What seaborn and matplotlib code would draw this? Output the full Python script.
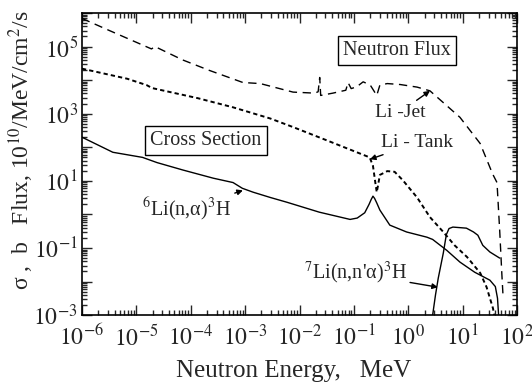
import numpy as np
import pandas as pd
import matplotlib
matplotlib.use("Agg")
import matplotlib.pyplot as plt
import matplotlib.ticker as mticker
import seaborn as sns

# ---------------- data ----------------
jet_E = [1.0e-6, 3.2e-6, 1.9e-5, 2.2e-5, 7.1e-5, 2.2e-4, 9.1e-4, 1.9e-3, 7.6e-3,
         1.9e-2, 2.2e-2, 2.35e-2, 2.45e-2, 4.1e-2, 7.1e-2, 7.8e-2, 8.9e-2, 0.112,
         0.148, 0.20, 0.263, 0.30, 0.41, 0.71, 1.45, 2.5, 8.9, 20.9, 35.5, 42.7,
         47.9, 52.5, 55.0]
jet_F = [6.9e5, 3.0e5, 8.5e4, 1.0e5, 4.0e4, 1.95e4, 8.5e3, 7.9e3, 4.4e3,
         4.1e3, 4.5e3, 1.2e4, 3.5e3, 4.1e3, 5.0e3, 8.5e3, 5.6e3, 6.3e3,
         8.9e3, 7.1e3, 3.5e3, 7.1e3, 7.9e3, 7.4e3, 6.2e3, 4.8e3, 7.8e2, 1.3e2, 16, 8.9,
         0.32, 1.6e-2, 4.0e-3]

tank_E = [1.0e-6, 6.8e-6, 1.55e-5, 1.95e-5, 1.35e-4, 6.0e-4, 2.9e-3, 7.6e-3, 3.2e-2,
          0.195, 0.224, 0.25, 0.263, 0.28, 0.30, 0.41, 0.56, 0.79, 1.45, 2.5, 4.4,
          7.1, 12, 21, 27.5, 36, 38]
tank_F = [2.2e4, 1.1e4, 7.1e3, 5.8e3, 2.9e3, 1.55e3, 7.2e2, 4.0e2, 1.6e2,
          50, 28, 7.9, 4.6, 7.9, 15, 19.5, 18.6, 10.5, 3.2, 0.83, 0.30,
          0.12, 5.4e-2, 1.8e-2, 6.8e-3, 1.6e-3, 1.0e-3]

li6_E = [1.0e-6, 3.7e-6, 1.3e-5, 2.4e-5, 7.2e-5, 2.6e-4, 6.0e-4, 8.9e-4, 1.4e-3,
         2.9e-3, 5.9e-3, 2.3e-2, 8.5e-2, 0.115, 0.158, 0.19, 0.208, 0.224, 0.24,
         0.263, 0.30, 0.457, 0.93, 2.2, 2.8, 5.1, 8.9, 16.6, 31.6, 39.8, 43.6, 45.7]
li6_S = [200, 71, 50, 35, 21, 12, 8.9, 6.0, 4.6,
         3.2, 2.3, 1.17, 0.71, 0.78, 1.12, 2.0, 2.8, 3.5, 3.0,
         2.2, 1.35, 0.48, 0.30, 0.21, 0.18, 8.5e-2, 3.8e-2, 1.9e-2, 1.1e-2, 7.1e-3, 3.2e-3, 1.0e-3]

li7_E = [2.8, 3.16, 3.55, 4.4, 5.0, 5.6, 6.6, 11.7, 15.8, 19.0, 23.4, 31.6, 47.9]
li7_S = [1.0e-3, 4.0e-3, 1.26e-2, 7.1e-2, 0.25, 0.38, 0.42, 0.39, 0.30, 0.24, 0.12, 7.6e-2, 5.0e-2]

x_ticks = [1e-6, 1e-5, 1e-4, 1e-3, 1e-2, 1e-1, 1e0, 1e1, 1e2]
y_labelled = [1e-3, 1e-1, 1e1, 1e3, 1e5]

# ---------------- style ----------------
sns.set_style("ticks")
plt.rcParams['font.family'] = ['Liberation Serif', 'DejaVu Serif']
plt.rcParams['mathtext.fontset'] = 'stix'

fig = plt.figure(figsize=(5.32, 3.82), dpi=100)
ax = fig.add_axes([0.154, 0.175, 0.818, 0.791])

def df(x, y):
    return pd.DataFrame({"E": x, "v": y})

sns.lineplot(data=df(jet_E, jet_F), x="E", y="v", ax=ax, color="black", lw=1.0,
             linestyle=(0, (6, 4)), sort=False, estimator=None)
sns.lineplot(data=df(tank_E, tank_F), x="E", y="v", ax=ax, color="black", lw=1.4,
             linestyle=(0, (2.2, 1.6)), sort=False, estimator=None)
sns.lineplot(data=df(li6_E, li6_S), x="E", y="v", ax=ax, color="black", lw=1.0,
             sort=False, estimator=None)
sns.lineplot(data=df(li7_E, li7_S), x="E", y="v", ax=ax, color="black", lw=1.0,
             sort=False, estimator=None)

ax.set_xscale("log")
ax.set_yscale("log")
ax.set_xlim(1e-6, 1e2)
ax.set_ylim(1e-3, 1e6)

ax.xaxis.set_major_locator(mticker.FixedLocator(x_ticks))
ax.xaxis.set_minor_locator(mticker.LogLocator(base=10, subs=np.arange(2, 10), numticks=50))
ax.yaxis.set_major_locator(mticker.LogLocator(base=10, numticks=20))
ax.yaxis.set_minor_locator(mticker.LogLocator(base=10, subs=np.arange(2, 10), numticks=50))

def xfmt(v, pos):
    e = int(round(np.log10(v)))
    return r"$10^{%d}$" % e

def yfmt(v, pos):
    e = int(round(np.log10(v)))
    if any(abs(v - t) / t < 1e-6 for t in y_labelled):
        return r"$10^{%d}$" % e
    return ""

ax.xaxis.set_major_formatter(mticker.FuncFormatter(xfmt))
ax.yaxis.set_major_formatter(mticker.FuncFormatter(yfmt))

ax.tick_params(which="both", direction="in", top=True, right=True, labelsize=17, width=1.0)
ax.tick_params(which="major", length=7)
ax.tick_params(axis="x", which="major", pad=7)
ax.tick_params(axis="y", which="major", pad=3)
ax.tick_params(which="minor", length=3.5)
for s in ax.spines.values():
    s.set_linewidth(1.2)
    s.set_color("black")

ax.set_xlabel("Neutron Energy,   MeV", fontsize=18)
ax.xaxis.set_label_coords(0.487, -0.150)
ax.set_ylabel(r"σ ,  b   Flux, 10$^{10}$/MeV/cm$^{2}$/s", fontsize=17)
ax.yaxis.set_label_coords(-0.105, 0.545)

box = dict(boxstyle="square,pad=0.25", fc="white", ec="black", lw=1.0)
ax.text(0.724, 0.877, "Neutron Flux", transform=ax.transAxes, ha="center", va="center",
        fontsize=14.5, bbox=box)
ax.text(0.285, 0.579, "Cross Section", transform=ax.transAxes, ha="center", va="center",
        fontsize=14.5, bbox=box)

arr = dict(arrowstyle="-|>", color="black", lw=1.0, mutation_scale=8, shrinkA=0, shrinkB=0)
ax.annotate("Li -Jet", xy=(2.5, 4.8e3), xycoords="data",
            xytext=(0.731, 0.672), textcoords="axes fraction",
            ha="center", va="center", fontsize=14, arrowprops=arr)
ax.annotate("Li - Tank", xy=(0.197, 44), xycoords="data",
            xytext=(0.770, 0.570), textcoords="axes fraction",
            ha="center", va="center", fontsize=14, arrowprops=arr)
ax.annotate(r"$^{6}$Li(n,α)$^{3}$H", xy=(9.1e-4, 5.2), xycoords="data",
            xytext=(0.241, 0.351), textcoords="axes fraction",
            ha="center", va="center", fontsize=14.5, arrowprops=arr)
ax.annotate(r"$^{7}$Li(n,n'α)$^{3}$H", xy=(3.5, 6.8e-3), xycoords="data",
            xytext=(0.628, 0.139), textcoords="axes fraction",
            ha="center", va="center", fontsize=14.5, arrowprops=arr)

fig.savefig("out.png", dpi=100)
